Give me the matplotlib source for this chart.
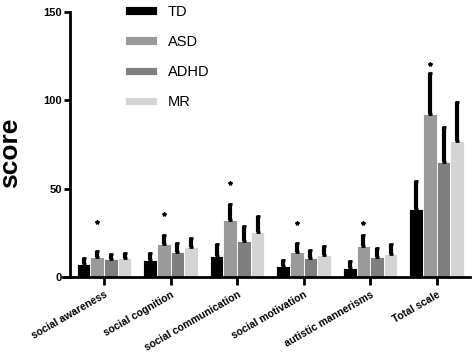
import numpy as np
from matplotlib import pyplot as plt

plt.rcParams['font.family'] = ['Liberation Sans', 'DejaVu Sans']

categories = ['social awareness', 'social cognition', 'social communication',
              'social motivation', 'autistic mannerisms', 'Total scale']
groups = ['TD', 'ASD', 'ADHD', 'MR']

td_mean = [7.5, 9.5, 12, 6, 5, 38.5]
td_err = [3, 4, 6.5, 3.5, 4, 16]
asd_mean = [11.5, 18.5, 32.5, 14, 17.5, 92.5]
asd_err = [3.5, 5.5, 9, 5.5, 6.5, 23]
adhd_mean = [10, 14, 20.5, 11, 11.5, 65]
adhd_err = [3, 5.5, 8.5, 4.5, 5, 20]
mr_mean = [10.5, 17, 25.5, 12.5, 13, 77]
mr_err = [3.2, 5, 9, 5, 5.5, 22]

# significance markers (above the ASD bar)
star_y = [31, 35.7, 53.4, 30.4, 30.4, 120.5]

yticks = [0, 50, 100, 150]


def plot_bars(fname='out.png'):

    fig = plt.figure(figsize=(4.72, 3.55), dpi=100)
    ax = fig.add_axes([63 / 472, 78 / 355, 407 / 472, 265 / 355])

    means = [td_mean, asd_mean, adhd_mean, mr_mean]
    errs = [td_err, asd_err, adhd_err, mr_err]
    colors = ['#000000', '#9a9a9a', '#7f7f7f', '#d4d4d4']

    x = np.arange(len(categories))
    w = 0.205
    handles = []
    for i, (m, e, c) in enumerate(zip(means, errs, colors)):
        pos = x + (i - 1.5) * w
        b = ax.bar(pos, m, width=w, color=c, edgecolor='white', linewidth=0.6,
                   label=groups[i], zorder=2)
        handles.append(b)
        ax.errorbar(pos, m, yerr=[np.zeros(len(m)), e], fmt='none',
                    ecolor='black', elinewidth=3, capsize=1.5, capthick=2,
                    zorder=3)

    ax.plot(x - 0.5 * w, star_y, ls='none', marker='*', ms=3, color='black')

    #Formatting
    ax.set_xlim(-0.617, 5.5)
    ax.set_ylim(0, 150)
    ax.spines['top'].set_visible(False)
    ax.spines['right'].set_visible(False)
    ax.spines['left'].set_position(('data', -0.512))
    for s in ['left', 'bottom']:
        ax.spines[s].set_linewidth(2)

    ax.set_yticks(yticks)
    ax.set_yticklabels([str(t) for t in yticks], fontsize=8, fontweight='bold')
    ax.tick_params(axis='y', length=4, width=2, pad=2)
    ax.set_xticks(x)
    ax.set_xticklabels(categories, rotation=30, ha='right',
                       rotation_mode='anchor', fontsize=7.5, fontweight='bold')
    ax.tick_params(axis='x', length=6, width=2, pad=3)

    fig.text(17.5 / 472, 1 - 153 / 355, 'score', rotation=90, fontsize=19,
             fontweight='bold', ha='center', va='baseline',
             rotation_mode='anchor')

    ax.legend(handles=handles, loc='upper left', frameon=False, fontsize=10.5,
              bbox_to_anchor=(125 / 472, 1 - 5 / 355),
              bbox_transform=fig.transFigure, borderaxespad=0, borderpad=0,
              handlelength=2.2, handleheight=0.55, handletextpad=0.75,
              labelspacing=1.1)

    plt.savefig(fname, dpi=100)


plot_bars()
